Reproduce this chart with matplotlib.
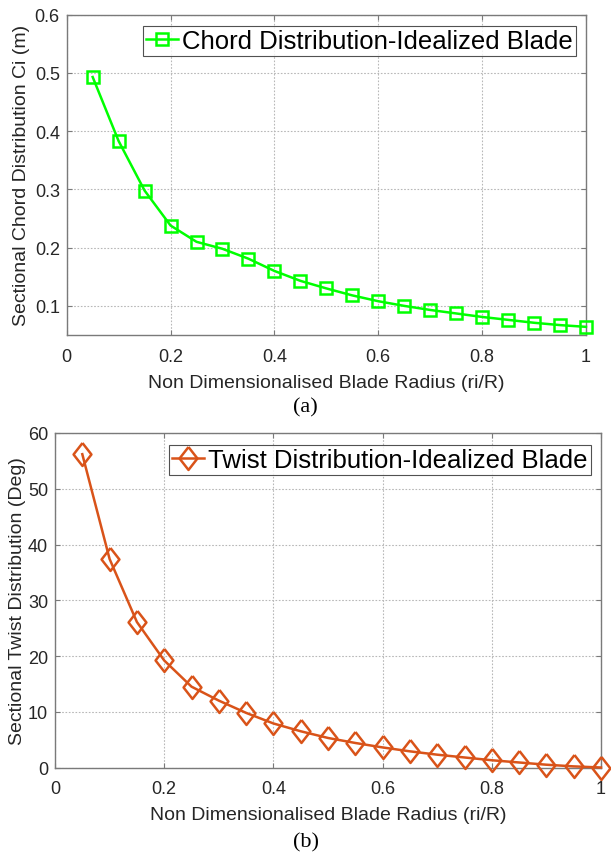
import matplotlib
matplotlib.use("Agg")
import matplotlib.pyplot as plt
from matplotlib import font_manager
import numpy as np

r_over_R = [0.05, 0.10, 0.15, 0.20, 0.25, 0.30, 0.35, 0.40, 0.45, 0.50,
            0.55, 0.60, 0.65, 0.70, 0.75, 0.80, 0.85, 0.90, 0.95, 1.00]
chord = [0.493, 0.383, 0.298, 0.238, 0.210, 0.198, 0.181, 0.160, 0.143, 0.130,
         0.118, 0.108, 0.100, 0.093, 0.087, 0.081, 0.076, 0.071, 0.067, 0.064]
twist = [56.2, 37.4, 26.1, 19.2, 14.5, 12.0, 9.8, 7.9, 6.5, 5.3,
         4.4, 3.6, 2.9, 2.3, 1.8, 1.3, 0.9, 0.5, 0.2, 0.0]

x_ticks = [0, 0.2, 0.4, 0.6, 0.8, 1]
x_ticklabels = ["0", "0.2", "0.4", "0.6", "0.8", "1"]
chord_yticks = [0.1, 0.2, 0.3, 0.4, 0.5, 0.6]
chord_yticklabels = ["0.1", "0.2", "0.3", "0.4", "0.5", "0.6"]
twist_yticks = [0, 10, 20, 30, 40, 50, 60]

W, H = 611, 854
fig = plt.figure(figsize=(W / 100, H / 100), dpi=100)
fig.patch.set_facecolor("white")

names = {f.name for f in font_manager.fontManager.ttflist}
SANS = ["Liberation Sans", "DejaVu Sans"]
SERIF = ["Liberation Serif", "DejaVu Serif"]
if "Liberation Sans Narrow" in names:
    LEG_FONT = ["Liberation Sans Narrow", "DejaVu Sans"]
    LEG_SIZE = 21.5
else:
    LEG_FONT = SANS
    LEG_SIZE = 18.5
TXT = "#262626"
SPINE = "#7a7a7a"

diamond = [(0, 1), (0.78, 0), (0, -1), (-0.78, 0), (0, 1)]


def px_axes(left, top, right, bottom):
    return fig.add_axes([left / W, 1 - bottom / H, (right - left) / W, (bottom - top) / H])


def style(ax):
    for s in ax.spines.values():
        s.set_color(SPINE)
        s.set_linewidth(1.0)
    ax.tick_params(direction="in", top=True, right=True, length=3.5, width=0.8,
                   colors=SPINE, labelcolor=TXT, labelsize=13)
    ax.tick_params(axis="x", pad=9)
    ax.tick_params(axis="y", pad=5)
    for lab in ax.get_xticklabels() + ax.get_yticklabels():
        lab.set_family(SANS)
    ax.grid(True, linestyle=(0, (1.5, 1.5)), color="#b8b8b8", linewidth=0.8)
    ax.set_axisbelow(True)


def legend(ax, right_px, top_px):
    leg = ax.legend(loc="upper right",
                    bbox_to_anchor=(right_px / W, 1 - top_px / H),
                    bbox_transform=fig.transFigure,
                    prop={"family": LEG_FONT, "size": LEG_SIZE},
                    frameon=True, fancybox=False, edgecolor="#262626",
                    handlelength=1.25, handletextpad=0.17, borderpad=0.12,
                    borderaxespad=0.0)
    leg.get_frame().set_linewidth(0.8)
    return leg


# ---- (a) chord ----
ax1 = px_axes(66.7, 15.7, 586, 336)
ax1.plot(r_over_R, chord, color="#00ff00", linewidth=1.8, marker="s",
         markersize=9, markerfacecolor="none", markeredgewidth=1.8,
         clip_on=False, zorder=3, label="Chord Distribution-Idealized Blade")
ax1.set_xlim(0, 1)
ax1.set_ylim(0.05, 0.6)
ax1.set_xticks(x_ticks)
ax1.set_xticklabels(x_ticklabels)
ax1.set_yticks(chord_yticks)
ax1.set_yticklabels(chord_yticklabels)
style(ax1)
ax1.set_xlabel("Non Dimensionalised Blade Radius (ri/R)", family=SANS, fontsize=14,
               color=TXT, labelpad=6.5)
ax1.set_ylabel("Sectional Chord Distribution Ci (m)", family=SANS, fontsize=14,
               color=TXT, labelpad=3)
legend(ax1, 576, 26.7)
fig.text(305.5 / W, 1 - 407.5 / H, "(a)", family=SERIF, fontsize=16,
         ha="center", va="center", color="black")

# ---- (b) twist ----
ax2 = px_axes(55, 434, 601, 768.5)
ax2.plot(r_over_R, twist, color="#d95319", linewidth=1.8, marker=diamond,
         markersize=16.5, markerfacecolor="none", markeredgewidth=1.8,
         clip_on=False, zorder=3, label="Twist Distribution-Idealized Blade")
ax2.set_xlim(0, 1)
ax2.set_ylim(0, 60)
ax2.set_xticks(x_ticks)
ax2.set_xticklabels(x_ticklabels)
ax2.set_yticks(twist_yticks)
style(ax2)
ax2.set_xlabel("Non Dimensionalised Blade Radius (ri/R)", family=SANS, fontsize=14,
               color=TXT, labelpad=6.5)
ax2.set_ylabel("Sectional Twist Distribution (Deg)", family=SANS, fontsize=14,
               color=TXT, labelpad=1)
legend(ax2, 591, 445.7)
fig.text(305.5 / W, 1 - 843 / H, "(b)", family=SERIF, fontsize=16,
         ha="center", va="center", color="black")

fig.savefig("out.png", dpi=100, facecolor="white")
